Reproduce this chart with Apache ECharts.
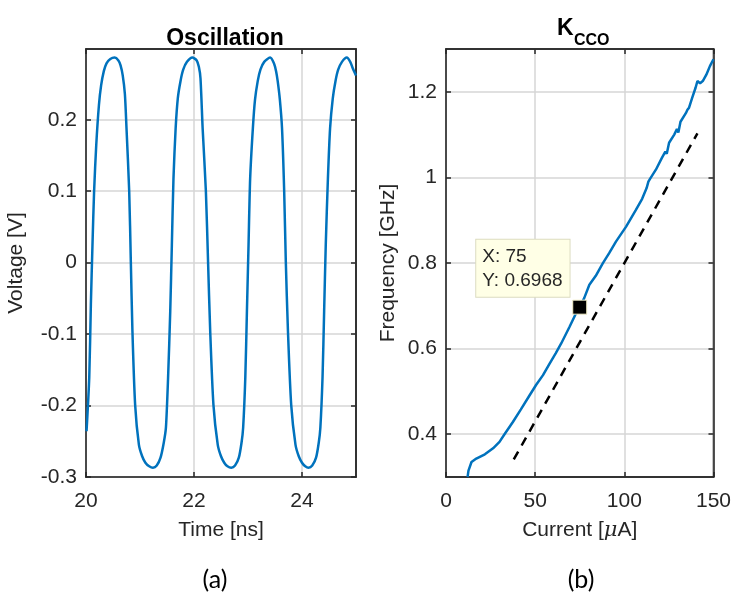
<!DOCTYPE html>
<html>
<head>
<meta charset="utf-8">
<script src="https://cdn.jsdelivr.net/npm/echarts@6/dist/echarts.min.js"></script>
<style>
  html, body { margin: 0; padding: 0; background: #fff; }
  #main { width: 734px; height: 593px; }
</style>
</head>
<body>
<div id="main"></div>
<script>
// (a) oscillation waveform
var timeNs = [20.01, 20.06, 20.09, 20.12, 20.15, 20.19, 20.24, 20.28, 20.33, 20.38, 20.45, 20.53, 20.60, 20.64, 20.68, 20.72, 20.75, 20.80, 20.83, 20.86, 20.91, 20.98, 21.04, 21.10, 21.17, 21.24, 21.31, 21.38, 21.44, 21.48, 21.52, 21.56, 21.59, 21.62, 21.66, 21.70, 21.75, 21.80, 21.87, 21.97, 22.05, 22.09, 22.12, 22.16, 22.22, 22.26, 22.30, 22.36, 22.44, 22.50, 22.56, 22.62, 22.69, 22.76, 22.83, 22.88, 22.91, 22.95, 22.98, 23.01, 23.04, 23.09, 23.13, 23.18, 23.23, 23.30, 23.41, 23.48, 23.52, 23.55, 23.59, 23.63, 23.67, 23.70, 23.74, 23.80, 23.88, 23.94, 24.00, 24.06, 24.12, 24.19, 24.26, 24.31, 24.34, 24.38, 24.41, 24.44, 24.48, 24.52, 24.57, 24.62, 24.67, 24.74, 24.83, 24.90, 24.94, 25.0];
var voltage = [-0.236, -0.161, -0.059, 0.025, 0.100, 0.165, 0.221, 0.248, 0.268, 0.279, 0.285, 0.287, 0.283, 0.276, 0.262, 0.236, 0.188, 0.100, 0.002, -0.096, -0.199, -0.255, -0.271, -0.280, -0.285, -0.287, -0.284, -0.273, -0.252, -0.231, -0.161, -0.068, 0.025, 0.118, 0.188, 0.230, 0.254, 0.270, 0.281, 0.287, 0.283, 0.274, 0.258, 0.188, 0.100, 0.002, -0.096, -0.199, -0.255, -0.271, -0.280, -0.285, -0.287, -0.284, -0.273, -0.252, -0.231, -0.161, -0.068, 0.025, 0.118, 0.188, 0.228, 0.254, 0.270, 0.281, 0.287, 0.279, 0.268, 0.254, 0.228, 0.188, 0.100, 0.002, -0.096, -0.199, -0.255, -0.271, -0.280, -0.285, -0.287, -0.284, -0.273, -0.252, -0.231, -0.161, -0.068, 0.025, 0.118, 0.188, 0.230, 0.254, 0.270, 0.281, 0.287, 0.280, 0.272, 0.262];

// (b) frequency vs current
var currentUA = [12.1, 12.6, 14.3, 17, 21.8, 26.4, 30, 33, 37.6, 42, 46.9, 50.5, 54.4, 58.1, 61.5, 64.6, 69.3, 73, 75, 77.5, 80.4, 81.4, 84, 87.9, 91.5, 95.3, 101, 106.5, 110, 112.5, 113.5, 114.5, 115.5, 117.7, 121, 123, 123.8, 125.1, 128, 129.5, 130.3, 131.5, 134.5, 135.4, 136.3, 138, 140, 141, 142.5, 144, 146, 148, 150];
var freqGHz = [0.300, 0.315, 0.335, 0.343, 0.353, 0.367, 0.382, 0.401, 0.429, 0.458, 0.491, 0.515, 0.538, 0.565, 0.589, 0.612, 0.651, 0.683, 0.6968, 0.718, 0.749, 0.752, 0.770, 0.799, 0.823, 0.850, 0.885, 0.924, 0.950, 0.975, 0.990, 0.997, 0.993, 1.018, 1.045, 1.060, 1.055, 1.081, 1.100, 1.113, 1.105, 1.130, 1.150, 1.158, 1.163, 1.185, 1.210, 1.225, 1.220, 1.225, 1.240, 1.260, 1.276];

// dashed fit line end points
var fitCurrent = [38, 141];
var fitFreq = [0.341, 1.103];

// data tip
var tipPoint = [75, 0.6968];

var xTicksA = [20, 22, 24];
var yTicksA = [-0.3, -0.2, -0.1, 0, 0.1, 0.2];
var xTicksB = [0, 50, 100, 150];
var yTicksB = [0.4, 0.6, 0.8, 1, 1.2];

function zip(a, b) {
    return a.map(function (v, i) { return [v, b[i]]; });
}

var txt = '#262626';
var font = "'Liberation Sans', Arial, Helvetica, sans-serif";
var gridColor = '#d6d6d6';

function mainAxis(gridIndex, min, max, ticks, extra) {
    var ax = {
        type: 'value',
        gridIndex: gridIndex,
        min: min,
        max: max,
        axisLine: { show: true, onZero: false, lineStyle: { color: txt, width: 1.5 } },
        axisTick: { show: true, inside: true, length: 5, customValues: ticks, lineStyle: { color: txt, width: 1.5 } },
        splitLine: { show: true, lineStyle: { color: gridColor, width: 1.5 } },
        nameTextStyle: {
            color: txt, fontSize: 21, fontFamily: font,
            rich: { mu: { color: txt, fontSize: 21, fontFamily: "'DejaVu Serif', serif", fontStyle: 'italic' } }
        },
        nameLocation: 'middle'
    };
    return Object.assign(ax, extra || {});
}

function boxAxis(gridIndex, min, max, ticks, position) {
    return {
        type: 'value',
        gridIndex: gridIndex,
        position: position,
        min: min,
        max: max,
        axisLine: { show: true, onZero: false, lineStyle: { color: txt, width: 1.5 } },
        axisTick: { show: true, inside: true, length: 5, customValues: ticks, lineStyle: { color: txt, width: 1.5 } },
        axisLabel: { show: false },
        splitLine: { show: false }
    };
}

function labelStyle(ticks, margin) {
    return { customValues: ticks, color: txt, fontSize: 21, fontFamily: font, margin: margin };
}

var myChart = echarts.init(document.getElementById('main'));
var option = {
    animation: false,
    backgroundColor: '#fff',
    title: [
        { text: 'Oscillation', left: 220, top: 22, textAlign: 'center',
          textStyle: { color: '#000', fontSize: 23, fontWeight: 'bold', fontFamily: font } },
        { text: 'K', left: 552, top: 12,
          textStyle: { color: '#000', fontSize: 23, fontWeight: 'bold', fontFamily: font } },
        { text: 'CCO', left: 569, top: 28,
          textStyle: { color: '#000', fontSize: 16, fontWeight: 'bold', fontFamily: font } },
        { text: '(a)', left: 210, top: 562, textAlign: 'center',
          textStyle: { color: '#000', fontSize: 25, fontWeight: 'normal', fontFamily: 'Lato, Open Sans, sans-serif' } },
        { text: '(b)', left: 576, top: 562, textAlign: 'center',
          textStyle: { color: '#000', fontSize: 25, fontWeight: 'normal', fontFamily: 'Lato, Open Sans, sans-serif' } }
    ],
    grid: [
        { left: 86, top: 49, width: 270, height: 428, show: true, borderColor: txt, borderWidth: 1.5 },
        { left: 446, top: 49, width: 269, height: 428, show: true, borderColor: txt, borderWidth: 1.5 }
    ],
    xAxis: [
        mainAxis(0, 20, 25, xTicksA, { name: 'Time [ns]', nameGap: 43, axisLabel: labelStyle(xTicksA, 14) }),
        boxAxis(0, 20, 25, xTicksA, 'top'),
        mainAxis(1, 0, 150, xTicksB, { name: 'Current [{mu|μ}A]', nameGap: 43, axisLabel: labelStyle(xTicksB, 14) }),
        boxAxis(1, 0, 150, xTicksB, 'top')
    ],
    yAxis: [
        mainAxis(0, -0.3, 0.299, yTicksA, { name: 'Voltage [V]', nameGap: 59, axisLabel: labelStyle(yTicksA, 9) }),
        boxAxis(0, -0.3, 0.299, yTicksA, 'right'),
        mainAxis(1, 0.3, 1.3, yTicksB, { name: 'Frequency [GHz]', nameGap: 47, axisLabel: labelStyle(yTicksB, 9) }),
        boxAxis(1, 0.3, 1.3, yTicksB, 'right')
    ],
    series: [
        {
            type: 'line',
            xAxisIndex: 0,
            yAxisIndex: 0,
            data: zip(timeNs, voltage),
            smooth: 0.25,
            showSymbol: false,
            clip: true,
            lineStyle: { color: '#0072BD', width: 2.5 }
        },
        {
            type: 'line',
            xAxisIndex: 2,
            yAxisIndex: 2,
            data: zip(currentUA, freqGHz),
            showSymbol: false,
            clip: true,
            lineStyle: { color: '#0072BD', width: 2.5 }
        },
        {
            type: 'line',
            xAxisIndex: 2,
            yAxisIndex: 2,
            data: zip(fitCurrent, fitFreq),
            showSymbol: false,
            lineStyle: { color: '#000', width: 2.5, type: [9, 7] }
        },
        {
            type: 'scatter',
            xAxisIndex: 2,
            yAxisIndex: 2,
            data: [tipPoint],
            symbol: 'rect',
            symbolSize: 14,
            z: 5,
            itemStyle: { color: '#000', opacity: 1, borderColor: '#f2eec8', borderWidth: 1 },
            label: {
                show: true,
                position: [-96, -3],
                align: 'left',
                verticalAlign: 'bottom',
                formatter: function (p) {
                    return 'X: ' + p.value[0] + '\nY: ' + p.value[1];
                },
                color: txt,
                fontSize: 19,
                lineHeight: 24,
                fontFamily: font,
                backgroundColor: '#ffffe6',
                borderColor: '#dcdcc0',
                borderWidth: 1,
                padding: [5, 7, 4, 6]
            }
        }
    ]
};

option && myChart.setOption(option);
</script>
</body>
</html>
